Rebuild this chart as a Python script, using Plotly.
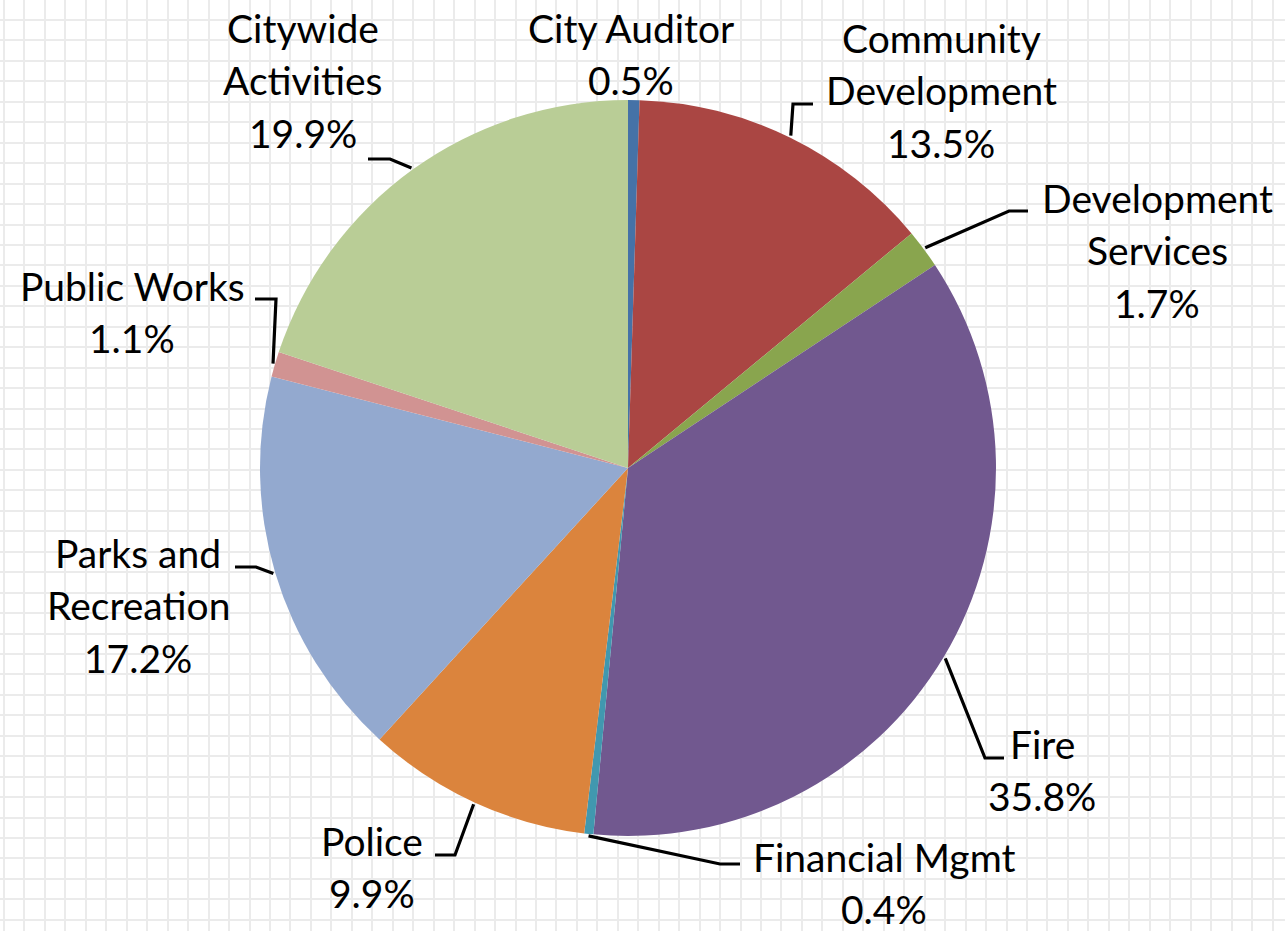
import math
import plotly.graph_objects as go

# ---------------- data ----------------
categories = ["City Auditor", "Community Development", "Development Services", "Fire",
              "Financial Mgmt", "Police", "Parks and Recreation", "Public Works",
              "Citywide Activities"]
shares = [0.5, 13.5, 1.7, 35.8, 0.4, 9.9, 17.2, 1.1, 19.9]
colors = ["#4572A7", "#AA4643", "#89A54E", "#71588F", "#4198AF", "#DB843D",
          "#93A9CF", "#D19392", "#B9CD96"]
# words on first label line (None = single line)
first_line_words = [None, 1, 1, None, None, None, 2, None, 1]

# ---------------- layout ----------------
W, H = 1285, 931
CX, CY, R = 628, 468, 368
FONT = "Lato, Calibri, sans-serif"
FS = 39
LINE_GAP = 52.5
# label centre x, first baseline y (pixels)
label_pos = [(631, 42), (941, 52), (1157, 212), (1042, 758), (884, 871),
             (372, 855), (138, 567), (132, 300), (303, 42)]
# leader elbow and end points (None = no leader)
leader_pts = [None,
              ((793, 104), (813, 104)),
              ((1009, 211), (1028, 211)),
              ((985, 758), (1004, 758)),
              ((720, 864), (740, 864)),
              ((455, 855), (435, 855)),
              ((256, 567), (235, 567)),
              ((276, 299), (255, 299)),
              ((390, 159), (368, 159))]

fig = go.Figure()

# leader lines from slice mid-angle on the rim
total = sum(shares)
lx, ly = [], []
cum = 0.0
for v, pts in zip(shares, leader_pts):
    a = 2 * math.pi * (cum + v / 2) / total
    cum += v
    if pts is None:
        continue
    sx = CX + (R + 2) * math.sin(a)
    sy = CY - (R + 2) * math.cos(a)
    (ex, ey), (tx, ty) = pts
    lx += [sx, ex, tx, None]
    ly += [sy, ey, ty, None]

fig.add_trace(go.Scatter(x=lx, y=ly, mode="lines",
                         line=dict(color="black", width=3.2),
                         hoverinfo="skip", showlegend=False))

fig.add_trace(go.Pie(
    labels=categories, values=shares, sort=False, direction="clockwise",
    rotation=0, textinfo="none", hoverinfo="label+percent",
    marker=dict(colors=colors, line=dict(width=0)),
    domain=dict(x=[(CX - R) / W, (CX + R) / W],
                y=[1 - (CY + R) / H, 1 - (CY - R) / H]),
    showlegend=False))

annotations = []
for name, v, nw, (x0, y0) in zip(categories, shares, first_line_words, label_pos):
    words = name.split(" ")
    if nw is None:
        lines = [name]
    else:
        lines = [" ".join(words[:nw]), " ".join(words[nw:])]
    lines.append(f"{v:.1f}%")
    for i, t in enumerate(lines):
        annotations.append(dict(
            x=x0, y=y0 + i * LINE_GAP - 0.36 * FS, xref="x", yref="y",
            text=t, showarrow=False, xanchor="center", yanchor="middle",
            borderpad=0,
            font=dict(family=FONT, size=FS, color="black")))

fig.update_layout(
    width=W, height=H, margin=dict(l=0, r=0, t=0, b=0),
    paper_bgcolor="white", plot_bgcolor="white",
    xaxis=dict(range=[0, W], domain=[0, 1], showgrid=True, gridcolor="#ebebeb",
               gridwidth=2.2, tick0=4, dtick=20.46, showticklabels=False,
               zeroline=False, showline=False, ticks="", fixedrange=True),
    yaxis=dict(range=[H, 0], domain=[0, 1], showgrid=True, gridcolor="#ebebeb",
               gridwidth=2.2, tick0=20, dtick=20.45, showticklabels=False,
               zeroline=False, showline=False, ticks="", fixedrange=True),
    annotations=annotations,
)

fig.write_html("out.html")
